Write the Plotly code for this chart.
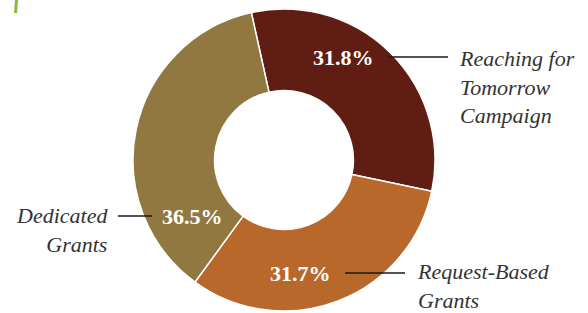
import plotly.graph_objects as go

labels = ["Reaching for Tomorrow Campaign", "Request-Based Grants", "Dedicated Grants"]
label_lines = ["Reaching for<br>Tomorrow<br>Campaign", "Request-Based<br>Grants", "Dedicated<br>Grants"]
values = [31.8, 31.7, 36.5]
colors = ["#5f1d13", "#b9682c", "#917840"]

W, H = 588, 313
cx, cy, R = 284, 160, 151

fig = go.Figure()
fig.add_trace(go.Pie(
    labels=labels, values=values, sort=False, direction="clockwise",
    rotation=-12.5, hole=0.46,
    marker=dict(colors=colors, line=dict(color="white", width=1.5)),
    textinfo="none", hoverinfo="label+percent", showlegend=False,
    domain=dict(x=[(cx - R) / W, (cx + R) / W], y=[(H - cy - R) / H, (H - cy + R) / H]),
))

# hidden pixel axes for annotations/leader lines
fig.update_layout(
    width=W, height=H, margin=dict(l=0, r=0, t=0, b=0),
    paper_bgcolor="white", plot_bgcolor="rgba(0,0,0,0)",
    xaxis=dict(range=[0, W], visible=False, fixedrange=True),
    yaxis=dict(range=[H, 0], visible=False, fixedrange=True),
    showlegend=False,
)

pct_pos = [(343, 57), (300, 273), (192, 216)]
lines = [((388, 57), (448, 57)), ((345, 273), (405, 273)), ((118, 216), (152, 216))]
lab_pos = [(457, 87, "left"), (415, 286, "left"), (110, 230, "right")]

for v, (px, py) in zip(values, pct_pos):
    fig.add_annotation(x=px, y=py, xref="x", yref="y", text=f"<b>{v:.1f}%</b>",
                       showarrow=False, font=dict(family="Liberation Serif", size=22, color="white"))
for (a, b) in lines:
    fig.add_shape(type="line", x0=a[0], y0=a[1], x1=b[0], y1=b[1], xref="x", yref="y",
                  line=dict(color="#1a1a1a", width=1.3))
for t, (lx, ly, al) in zip(label_lines, lab_pos):
    fig.add_annotation(x=lx, y=ly, xref="x", yref="y", text=f"<i>{t}</i>", showarrow=False,
                       xanchor=al, yanchor="middle", align=al,
                       font=dict(family="Liberation Serif", size=22, color="#333333"))

fig.add_shape(type="line", x0=16.5, y0=0, x1=15.5, y1=13, xref="x", yref="y",
              line=dict(color="#8ab83a", width=3))

fig.write_html("out.html", config={"displayModeBar": False},
               post_script="document.body.style.margin='0';")
